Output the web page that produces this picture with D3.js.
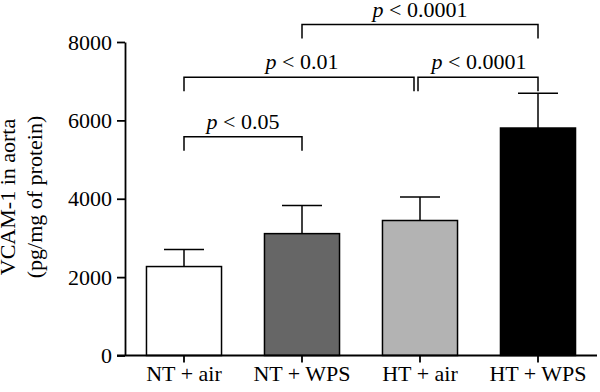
<!DOCTYPE html>
<html>
<head>
<meta charset="utf-8">
<script src="https://cdn.jsdelivr.net/npm/d3@7"></script>
<style>
  body { margin: 0; background: #fff; }
  text { font-family: "Liberation Serif", "DejaVu Serif", serif; }
</style>
</head>
<body>
<div id="chart"></div>
<script>
var groups = ["NT + air", "NT + WPS", "HT + air", "HT + WPS"];
var means = [2270, 3110, 3445, 5805];
var errTops = [2705, 3825, 4045, 6695];
var fills = ["#ffffff", "#666666", "#b3b3b3", "#000000"];
var yTicks = [0, 2000, 4000, 6000, 8000];

// comparisons: from group, to group, bracket level (in data units), label
var compFrom = [0, 0, 2, 1];
var compTo = [1, 2, 3, 3];
var compLevel = [5580, 7100, 7100, 8445];
var compLabel = ["0.05", "0.01", "0.0001", "0.0001"];

var width = 600, height = 392;
var fs = "22px";

var svg = d3.select("#chart").append("svg")
    .attr("width", width)
    .attr("height", height);

var x = d3.scaleBand()
    .domain(groups)
    .range([125, 597])
    .paddingInner(0.364)
    .paddingOuter(0.182);

var y = d3.scaleLinear()
    .domain([0, 8000])
    .range([355.5, 42]);

// bars
svg.selectAll(".bar")
    .data(groups)
    .enter().append("rect")
    .attr("class", "bar")
    .attr("x", function (d) { return x(d); })
    .attr("width", x.bandwidth())
    .attr("y", function (d, i) { return y(means[i]); })
    .attr("height", function (d, i) { return y(0) - y(means[i]); })
    .attr("fill", function (d, i) { return fills[i]; })
    .attr("stroke", "#000")
    .attr("stroke-width", 1.5);

// error bars (upper only)
var eb = svg.selectAll(".err")
    .data(groups)
    .enter().append("g")
    .attr("class", "err")
    .attr("stroke", "#000")
    .attr("stroke-width", 1.5);

eb.append("line")
    .attr("x1", function (d) { return x(d) + x.bandwidth() / 2; })
    .attr("x2", function (d) { return x(d) + x.bandwidth() / 2; })
    .attr("y1", function (d, i) { return y(means[i]); })
    .attr("y2", function (d, i) { return y(errTops[i]); });

eb.append("line")
    .attr("x1", function (d) { return x(d) + x.bandwidth() / 2 - 20; })
    .attr("x2", function (d) { return x(d) + x.bandwidth() / 2 + 20; })
    .attr("y1", function (d, i) { return y(errTops[i]); })
    .attr("y2", function (d, i) { return y(errTops[i]); });

// axes
var yAxis = svg.append("g")
    .attr("transform", "translate(125,0)")
    .call(d3.axisLeft(y).tickValues(yTicks).tickFormat(d3.format("d"))
        .tickSize(8).tickSizeOuter(0).tickPadding(5));

var xAxis = svg.append("g")
    .attr("transform", "translate(0," + y(0) + ")")
    .call(d3.axisBottom(x).tickSize(7).tickSizeOuter(0).tickPadding(3));

[yAxis, xAxis].forEach(function (a) {
    a.attr("font-size", null);
    a.selectAll("path, line").attr("stroke", "#000").attr("stroke-width", 1.8);
    a.selectAll("text").attr("fill", "#000").style("font-size", fs);
});
xAxis.select(".domain").attr("d", "M117,0H597");

// y label
var yl = svg.append("text")
    .attr("transform", "translate(15,197) rotate(-90)")
    .attr("text-anchor", "middle")
    .style("font-size", fs);
yl.append("tspan").attr("x", 0).attr("dy", 0).text("VCAM-1 in aorta");
yl.append("tspan").attr("x", 0).attr("dy", 27).text("(pg/mg of protein)");

// significance brackets
function cx(i) { return x(groups[i]) + x.bandwidth() / 2; }

var br = svg.selectAll(".bracket")
    .data(compLabel)
    .enter().append("g")
    .attr("class", "bracket");

br.append("path")
    .attr("fill", "none")
    .attr("stroke", "#000")
    .attr("stroke-width", 1.5)
    .attr("d", function (d, i) {
        var x1 = cx(compFrom[i]), x2 = cx(compTo[i]), yy = y(compLevel[i]);
        if (compTo[i] === 2) x2 -= 6;
        if (compFrom[i] === 2) x1 -= 2;
        return "M" + x1 + "," + (yy + 14) + "V" + yy + "H" + x2 + "V" + (yy + 14);
    });

var bt = br.append("text")
    .attr("x", function (d, i) {
        var x1 = cx(compFrom[i]), x2 = cx(compTo[i]);
        return (x1 + x2) / 2;
    })
    .attr("y", function (d, i) { return y(compLevel[i]) - 8; })
    .attr("text-anchor", "middle")
    .style("font-size", fs);
bt.append("tspan").style("font-style", "italic").text("p");
bt.append("tspan").text(function (d) { return " < " + d; });
</script>
</body>
</html>
